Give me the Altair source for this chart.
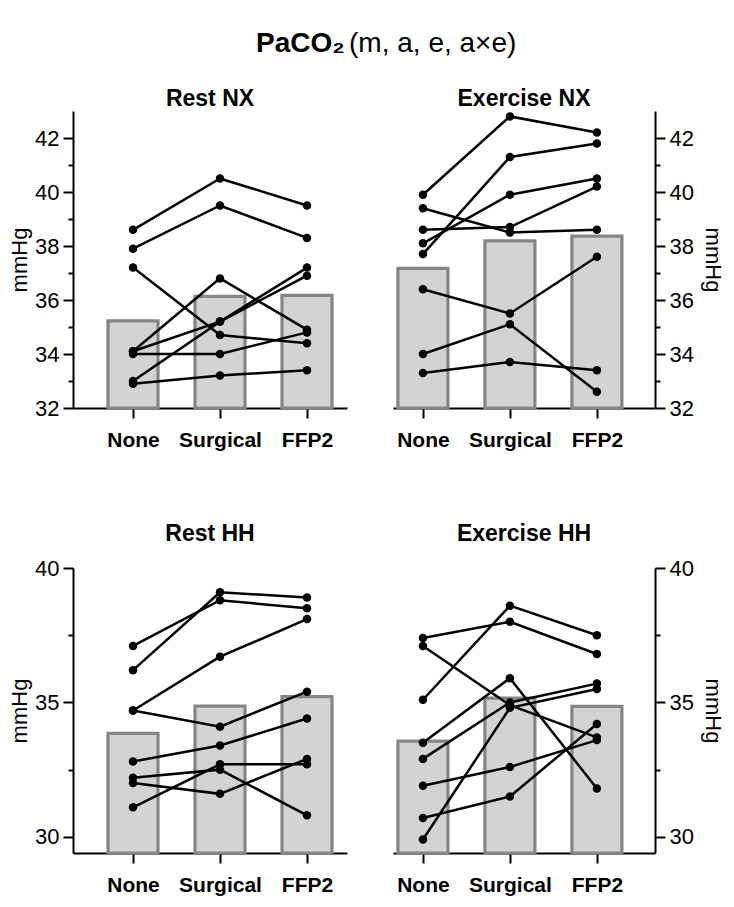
import altair as alt
import pandas as pd

masks = ["None", "Surgical", "FFP2"]

# Rest, normoxia (NX) - 8 subjects
rest_nx_none = [38.6, 37.9, 37.2, 34.1, 34.1, 34.0, 33.0, 32.9]
rest_nx_surgical = [40.5, 39.5, 34.7, 36.8, 35.2, 34.0, 35.2, 33.2]
rest_nx_ffp2 = [39.5, 38.3, 34.4, 34.9, 37.2, 34.8, 36.9, 33.4]

# Exercise, normoxia (NX)
ex_nx_none = [39.9, 39.4, 38.6, 38.1, 37.7, 36.4, 34.0, 33.3]
ex_nx_surgical = [42.8, 38.5, 38.7, 39.9, 41.3, 35.5, 35.1, 33.7]
ex_nx_ffp2 = [42.2, 38.6, 40.2, 40.5, 41.8, 37.6, 32.6, 33.4]

# Rest, hypobaric hypoxia (HH)
rest_hh_none = [37.1, 36.2, 34.7, 34.7, 32.8, 32.2, 32.0, 31.1]
rest_hh_surgical = [38.8, 39.1, 36.7, 34.1, 33.4, 32.5, 31.6, 32.7]
rest_hh_ffp2 = [38.5, 38.9, 38.1, 35.4, 34.4, 30.8, 32.9, 32.7]

# Exercise, hypobaric hypoxia (HH)
ex_hh_none = [37.4, 37.1, 35.1, 33.5, 32.9, 31.9, 30.7, 29.9]
ex_hh_surgical = [38.0, 34.9, 38.6, 35.9, 35.0, 32.6, 31.5, 34.8]
ex_hh_ffp2 = [36.8, 33.7, 37.5, 31.8, 35.7, 33.6, 34.2, 35.5]

nx_domain = [32, 43]
nx_ticks = [32, 33, 34, 35, 36, 37, 38, 39, 40, 41, 42]
hh_domain = [29.4, 40]
hh_ticks = [30, 32.5, 35, 37.5, 40]

FONT = "Liberation Sans"


def make_df(none, surgical, ffp2):
    rows = []
    for i in range(len(none)):
        for m, vals in zip(masks, [none, surgical, ffp2]):
            rows.append({"subject": i, "mask": m, "value": vals[i]})
    return pd.DataFrame(rows)


def panel(df, title, domain, ticks, major, orient, width, height, pad, align, toff, tpad):
    x = alt.X(
        "mask:N",
        sort=masks,
        title=None,
        scale=alt.Scale(type="point", padding=pad, align=align),
        axis=alt.Axis(labelAngle=0, labelFontWeight="bold", labelFontSize=21,
                      tickSize=10, labelPadding=11),
    )
    yscale = alt.Scale(domain=domain, nice=False, zero=False)
    yaxis = alt.Axis(
        orient=orient,
        values=ticks,
        title="mmHg",
        labelExpr=f"datum.value % {major} === 0 ? datum.label : ''",
        tickSize={"condition": {"test": f"datum.value % {major} === 0", "value": 10}, "value": 5},
        labelPadding=4,
        titlePadding=tpad,
    )
    base = alt.Chart(df)
    bars = base.mark_bar(size=50, fill="#d3d3d3", stroke="#858585", strokeWidth=3.2).encode(
        x=x, y=alt.Y("mean(value):Q", scale=yscale, axis=yaxis)
    )
    lines = base.mark_line(color="black", strokeWidth=2.5).encode(
        x=x, y=alt.Y("value:Q", scale=yscale, axis=yaxis), detail="subject:N"
    )
    pts = base.mark_circle(color="black", size=72, opacity=1).encode(
        x=x, y=alt.Y("value:Q", scale=yscale, axis=yaxis)
    )
    return alt.layer(bars, lines, pts).properties(
        width=width, height=height,
        title=alt.TitleParams(title, fontSize=23, fontWeight="bold", font=FONT, offset=toff),
    )


p1 = panel(make_df(rest_nx_none, rest_nx_surgical, rest_nx_ffp2), "Rest NX",
           nx_domain, nx_ticks, 2, "left", 274, 297, 0.575, 0.6, 0, 3)
p2 = panel(make_df(ex_nx_none, ex_nx_surgical, ex_nx_ffp2), "Exercise NX",
           nx_domain, nx_ticks, 2, "right", 262, 297, 0.506, 0.34, 0, 7)
p3 = panel(make_df(rest_hh_none, rest_hh_surgical, rest_hh_ffp2), "Rest HH",
           hh_domain, hh_ticks, 5, "left", 274, 285, 0.575, 0.6, 11, 3)
p4 = panel(make_df(ex_hh_none, ex_hh_surgical, ex_hh_ffp2), "Exercise HH",
           hh_domain, hh_ticks, 5, "right", 262, 285, 0.506, 0.34, 11, 7)

NB = "\u00a0"
ZW = "\u200b"
chart = alt.vconcat(
    alt.hconcat(p1, p2, spacing=46),
    alt.hconcat(p3, p4, spacing=46),
    spacing=73,
).properties(
    title=alt.TitleParams(
        text="PaCO\u2082" + NB * 22 + ZW,
        subtitle=ZW + NB * 12 + "(m, a, e, a\u00d7e)",
        fontSize=28, fontWeight="bold", font=FONT,
        subtitleFontSize=28, subtitleFontWeight="normal", subtitleFont=FONT,
        subtitleColor="black", subtitlePadding=-28,
        anchor="middle", offset=30, dx=20,
    ),
    padding={"left": 0, "top": 22, "right": 2, "bottom": 5},
).configure_view(stroke=None).configure_axis(
    grid=False,
    domainColor="black", domainWidth=2,
    tickColor="black", tickWidth=2,
    labelColor="black", labelFont=FONT, labelFontSize=22,
    titleColor="black", titleFont=FONT, titleFontSize=22, titleFontWeight="normal",
).configure_title(color="black")

chart.save("out.html", embed_options={"renderer": "svg", "actions": False})
